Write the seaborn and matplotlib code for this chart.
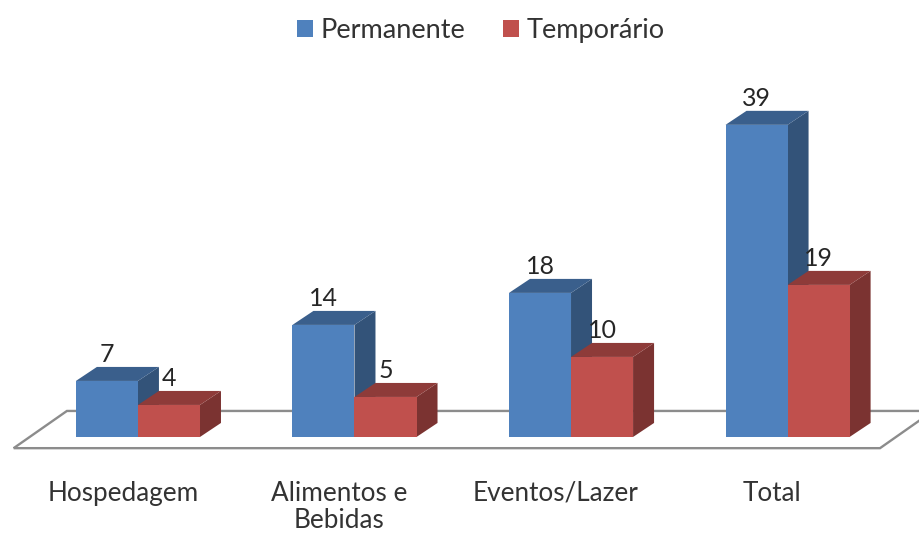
import pandas as pd
import seaborn as sns
import matplotlib.pyplot as plt
from matplotlib.patches import Polygon
from matplotlib.colors import to_rgb

categories = ['Hospedagem', 'Alimentos e\nBebidas', 'Eventos/Lazer', 'Total']
permanente = [7, 14, 18, 39]
temporario = [4, 5, 10, 19]
series_names = ['Permanente', 'Temporário']
colors = ['#4F81BD', '#C0504D']

plt.rcParams['font.family'] = ['Lato', 'DejaVu Sans']

df = pd.DataFrame({'cat': categories, series_names[0]: permanente, series_names[1]: temporario})
df = df.melt(id_vars='cat', var_name='serie', value_name='valor')

fig = plt.figure(figsize=(9.19, 5.33), dpi=100)
ax = fig.add_axes([0, 0, 1, 1])

sns.barplot(data=df, x='cat', y='valor', hue='serie', palette=colors, width=0.573,
            gap=0, saturation=1, legend=False, ax=ax, zorder=3)

# full-figure axes so that 1 unit is 8 px tall and a category is 216.5 px wide
ax.set_xlim(-0.637, 3.607)
ax.set_ylim(-12, 54.6)
ax.axis('off')

dx = 21 / 216.5
dy = 14 / 8


def shade(color, f):
    return tuple(c * f for c in to_rgb(color))


# floor
floor = Polygon([(-0.574, -1.4), (3.427, -1.4), (3.672, 3.25), (-0.328, 3.25)],
                closed=True, fill=False, edgecolor='#8c8c8c', linewidth=1.7, zorder=1)
ax.add_patch(floor)

# side and top faces of each bar, taken from the bars themselves
for cont, color in zip(ax.containers, colors):
    for bar in cont:
        x0 = bar.get_x()
        x1 = x0 + bar.get_width()
        h = bar.get_height()
        ax.add_patch(Polygon([(x1, 0), (x1 + dx, dy), (x1 + dx, h + dy), (x1, h)],
                             closed=True, facecolor=shade(color, 0.64), edgecolor='none', zorder=2.5))
        ax.add_patch(Polygon([(x0, h), (x0 + dx, h + dy), (x1 + dx, h + dy), (x1, h)],
                             closed=True, facecolor=shade(color, 0.74), edgecolor='none', zorder=2.5))
        ax.text((x0 + x1) / 2, h + dy + 0.1, f'{h:.0f}', ha='center', va='bottom',
                fontsize=18, color='#262626', zorder=5)

# category labels
for i, name in enumerate(categories):
    ax.text(i - 0.07, -5.5, name, ha='center', va='top', fontsize=18.8,
            color='#333333', linespacing=1.1)

# legend
handles = [plt.Rectangle((0, 0), 1, 1, facecolor=c) for c in colors]
fig.legend(handles, series_names, loc='upper center', bbox_to_anchor=(0.523, 1.012), ncol=2,
           frameon=False, fontsize=19.5, handlelength=0.59, handleheight=0.59,
           handletextpad=0.27, columnspacing=1.4, labelcolor='#333333')

fig.savefig('out.png', dpi=100)
